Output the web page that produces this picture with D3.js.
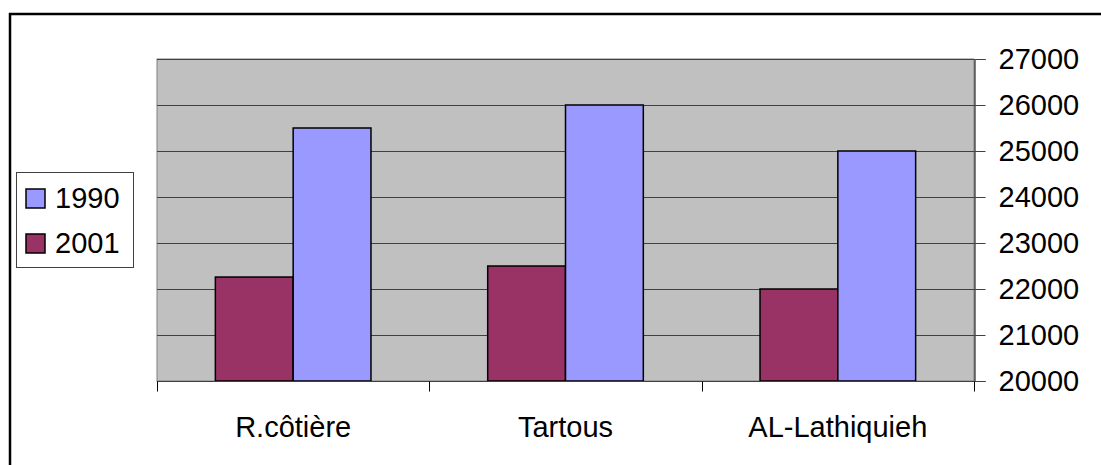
<!DOCTYPE html>
<meta charset="utf-8">
<style>
body { margin: 0; background: #fff; }
text {
  font-family: Arial, "Liberation Sans", sans-serif;
  font-size: 29px;
  fill: #000;
}
</style>
<body>
<svg width="1101" height="465"></svg>
<script src="https://cdnjs.cloudflare.com/ajax/libs/d3/7.8.5/d3.min.js"></script>
<script>
// chart values
var categories = ["R.côtière", "Tartous", "AL-Lathiquieh"];
var series = ["2001", "1990"];          // drawing order inside a group
var legendOrder = ["1990", "2001"];
var values2001 = [22260, 22500, 22000];
var values1990 = [25500, 26000, 25000];
var yTicks = [20000, 21000, 22000, 23000, 24000, 25000, 26000, 27000];

var colors = { "1990": "#9999FF", "2001": "#993366" };

var svg = d3.select("svg");

// outer chart border (right and bottom are cut off by the picture)
svg.append("rect")
    .attr("x", 10).attr("y", 14)
    .attr("width", 1200).attr("height", 600)
    .attr("fill", "#fff")
    .attr("stroke", "#000")
    .attr("stroke-width", 2.5);

var plotL = 157, plotR = 974, plotT = 59, plotB = 381;

var x0 = d3.scaleBand().domain(categories).range([plotL, plotR]).padding(0);
// gap width 150% -> 0.75 step on each side of the pair of bars
var x1 = d3.scaleBand().domain(series).range([0, x0.bandwidth()])
    .paddingInner(0).paddingOuter(0.75);
var y = d3.scaleLinear().domain([20000, 27000]).range([plotB, plotT]);

// plot area
svg.append("rect")
    .attr("x", plotL).attr("y", plotT)
    .attr("width", plotR - plotL).attr("height", plotB - plotT)
    .attr("fill", "#C0C0C0")
    .attr("stroke", "#808080")
    .attr("stroke-width", 1);

// gridlines
svg.append("g").selectAll("line")
    .data(yTicks.slice(1))
    .enter().append("line")
    .attr("x1", plotL).attr("x2", plotR)
    .attr("y1", function(d) { return Math.round(y(d)) + 0.5; })
    .attr("y2", function(d) { return Math.round(y(d)) + 0.5; })
    .attr("stroke", "#404040")
    .attr("stroke-width", 1);

// bars
var rows = categories.map(function(c, i) {
  return { cat: c, vals: [
    { key: "2001", value: values2001[i] },
    { key: "1990", value: values1990[i] }
  ]};
});

svg.append("g").selectAll("g")
    .data(rows)
    .enter().append("g")
    .attr("transform", function(d) { return "translate(" + x0(d.cat) + ",0)"; })
    .selectAll("rect")
    .data(function(d) { return d.vals; })
    .enter().append("rect")
    .attr("x", function(d) { return x1(d.key); })
    .attr("y", function(d) { return y(d.value); })
    .attr("width", x1.bandwidth())
    .attr("height", function(d) { return plotB - y(d.value); })
    .attr("fill", function(d) { return colors[d.key]; })
    .attr("stroke", "#000")
    .attr("stroke-width", 1.5);

// right value axis
var yAxis = svg.append("g")
    .attr("transform", "translate(" + (plotR + 0.5) + ",0)")
    .call(d3.axisRight(y).tickValues(yTicks).tickSize(11).tickPadding(13)
      .tickFormat(d3.format("d")));
yAxis.select(".domain").attr("stroke", "#000");
yAxis.selectAll(".tick line").attr("stroke", "#404040");
yAxis.selectAll("text")
    .style("font-family", "Arial, 'Liberation Sans', sans-serif")
    .style("font-size", "29px")
    .attr("fill", "#000");

// bottom category axis
var xAxis = svg.append("g")
    .attr("transform", "translate(0," + (plotB + 0.5) + ")");
xAxis.append("line")
    .attr("x1", plotL).attr("x2", plotR + 11)
    .attr("stroke", "#404040");
var bounds = categories.map(function(c) { return x0(c); }).concat([plotR]);
xAxis.selectAll(".bt")
    .data(bounds)
    .enter().append("line")
    .attr("class", "bt")
    .attr("x1", function(d) { return Math.round(d) + 0.5; })
    .attr("x2", function(d) { return Math.round(d) + 0.5; })
    .attr("y1", 0).attr("y2", 10)
    .attr("stroke", "#000");
xAxis.selectAll(".cat")
    .data(categories)
    .enter().append("text")
    .attr("class", "cat")
    .attr("x", function(d) { return x0(d) + x0.bandwidth() / 2; })
    .attr("y", 55)
    .attr("text-anchor", "middle")
    .text(function(d) { return d; });

// legend
var legend = svg.append("g");
legend.append("rect")
    .attr("x", 16.5).attr("y", 172.5)
    .attr("width", 117).attr("height", 95)
    .attr("fill", "#fff")
    .attr("stroke", "#404040");
var items = legend.selectAll(".item")
    .data(legendOrder)
    .enter().append("g")
    .attr("class", "item")
    .attr("transform", function(d, i) { return "translate(0," + (i * 45) + ")"; });
items.append("rect")
    .attr("x", 26).attr("y", 189)
    .attr("width", 19).attr("height", 19)
    .attr("fill", function(d) { return colors[d]; })
    .attr("stroke", "#000")
    .attr("stroke-width", 1.5);
items.append("text")
    .attr("x", 55).attr("y", 208)
    .text(function(d) { return d; });
</script>
</body>
